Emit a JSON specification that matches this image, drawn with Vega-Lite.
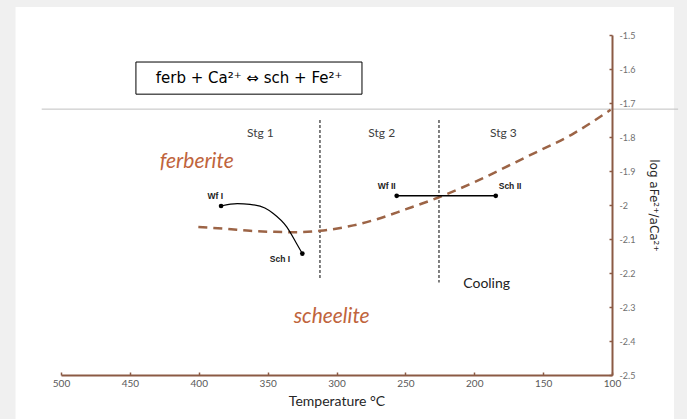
{
  "$schema": "https://vega.github.io/schema/vega-lite/v6.json",
  "width": 551,
  "height": 340,
  "autosize": "none",
  "padding": {"left": 61, "top": 35, "right": 75, "bottom": 44},
  "background": "#f0f0f0",
  "config": {"view": {"stroke": null}, "font": "Lato", "axis": {"labelOverlap": false, "labelFlush": false}},
  "datasets": {
    "panel": [{"T": 533, "T2": 55, "v": -1.4175, "v2": -2.7}],
    "hline": [{"T": 514, "T2": 52, "v": -1.718}],
    "box": [{"T": 445.6, "T2": 281.5, "v": -1.5795, "v2": -1.674, "label": "ferb + Ca²⁺ ⇔ sch + Fe²⁺", "Tc": 363.5, "vc": -1.6275}],
    "vlines": [{"T": 312, "v": -1.75, "v2": -2.216}, {"T": 225.6, "v": -1.75, "v2": -2.228}],
    "curve": [
      {"T": 400.3, "v": -2.065}, {"T": 380, "v": -2.07}, {"T": 362.8, "v": -2.076}, {"T": 345, "v": -2.079},
      {"T": 329, "v": -2.08}, {"T": 312, "v": -2.076}, {"T": 287.8, "v": -2.06}, {"T": 270.8, "v": -2.042},
      {"T": 250, "v": -2.013}, {"T": 226.1, "v": -1.978}, {"T": 200, "v": -1.933}, {"T": 161.9, "v": -1.858},
      {"T": 128, "v": -1.79}, {"T": 101, "v": -1.72}
    ],
    "path1": [
      {"T": 383.8, "v": -2.003}, {"T": 372, "v": -1.996}, {"T": 362.8, "v": -1.998}, {"T": 352, "v": -2.009},
      {"T": 345.9, "v": -2.025}, {"T": 336, "v": -2.065}, {"T": 328.9, "v": -2.114}, {"T": 324.8, "v": -2.143}
    ],
    "path2": [{"T": 256.3, "v": -1.973}, {"T": 184.4, "v": -1.973}],
    "pts": [
      {"T": 383.8, "v": -2.003, "name": "Wf I", "lT": 388, "lv": -1.974},
      {"T": 324.8, "v": -2.143, "name": "Sch I", "lT": 341, "lv": -2.158},
      {"T": 256.3, "v": -1.973, "name": "Wf II", "lT": 263.6, "lv": -1.945},
      {"T": 184.4, "v": -1.973, "name": "Sch II", "lT": 174, "lv": -1.945}
    ],
    "stg": [
      {"T": 355.3, "v": -1.788, "label": "Stg 1"},
      {"T": 267.2, "v": -1.788, "label": "Stg 2"},
      {"T": 178.9, "v": -1.788, "label": "Stg 3"}
    ],
    "phases": [
      {"T": 401.5, "v": -1.873, "label": "ferberite"},
      {"T": 303.5, "v": -2.33, "label": "scheelite"}
    ],
    "cool": [{"T": 191, "v": -2.231, "label": "Cooling"}]
  },
  "layer": [
    {
      "data": {"name": "panel"},
      "mark": {"type": "rect", "fill": "white", "clip": false},
      "encoding": {
        "x": {"field": "T", "type": "quantitative", "scale": {"domain": [100, 500], "reverse": true, "nice": false, "zero": false},
          "axis": {"values": [500, 450, 400, 350, 300, 250, 200, 150, 100], "grid": false, "zindex": 1, "domainColor": "#8b5a44", "domainWidth": 2,
            "tickColor": "#8b5a44", "tickSize": -3, "tickWidth": 1.5, "labelColor": "#595959", "labelFontSize": 10, "labelPadding": 6,
            "labelFlush": false, "labelOverlap": false,
            "title": "Temperature °C", "titleFontSize": 14, "titleFontWeight": "normal", "titleColor": "#262626", "titlePadding": 6}},
        "x2": {"field": "T2"},
        "y": {"field": "v", "type": "quantitative", "scale": {"domain": [-2.5, -1.5], "nice": false, "zero": false},
          "axis": {"orient": "right", "tickCount": 10, "grid": false, "zindex": 1,
            "domainColor": "#8b5a44", "domainWidth": 2, "tickColor": "#8b5a44", "tickSize": -3, "tickWidth": 1.5,
            "labelColor": "#6f6f6f", "labelFontSize": 9, "labelPadding": 10, "labelFlush": false, "labelOverlap": false, "labelSeparation": 0,
            "format": "~g",
            "labelExpr": "replace(datum.label, '\u2212', '-')",
            "title": "log aFe²⁺/aCa²⁺", "titleFont": "DejaVu Sans", "titleAngle": 90, "titleFontSize": 12, "titleFontWeight": "normal", "titleColor": "#262626", "titlePadding": 12}},
        "y2": {"field": "v2"}
      }
    },
    {
      "data": {"name": "hline"},
      "mark": {"type": "rule", "color": "#c0c0c0", "strokeWidth": 1, "clip": false},
      "encoding": {
        "x": {"field": "T", "type": "quantitative"},
        "x2": {"field": "T2"},
        "y": {"field": "v", "type": "quantitative"}
      }
    },
    {
      "data": {"name": "box"},
      "mark": {"type": "rect", "fill": "white", "stroke": "black", "strokeWidth": 1},
      "encoding": {
        "x": {"field": "T", "type": "quantitative"},
        "x2": {"field": "T2"},
        "y": {"field": "v", "type": "quantitative"},
        "y2": {"field": "v2"}
      }
    },
    {
      "data": {"name": "box"},
      "mark": {"type": "text", "font": "DejaVu Sans", "fontSize": 15, "color": "black", "align": "center", "baseline": "middle"},
      "encoding": {
        "x": {"field": "Tc", "type": "quantitative"},
        "y": {"field": "vc", "type": "quantitative"},
        "text": {"field": "label"}
      }
    },
    {
      "data": {"name": "vlines"},
      "mark": {"type": "rule", "color": "black", "strokeWidth": 1, "strokeDash": [3, 2]},
      "encoding": {
        "x": {"field": "T", "type": "quantitative"},
        "y": {"field": "v", "type": "quantitative"},
        "y2": {"field": "v2"}
      }
    },
    {
      "data": {"name": "curve"},
      "mark": {"type": "line", "color": "#9c6446", "strokeWidth": 2.5, "strokeDash": [9, 6], "interpolate": "monotone"},
      "encoding": {
        "x": {"field": "T", "type": "quantitative"},
        "y": {"field": "v", "type": "quantitative"}
      }
    },
    {
      "data": {"name": "path1"},
      "mark": {"type": "line", "color": "black", "strokeWidth": 1.2, "interpolate": "monotone"},
      "encoding": {
        "x": {"field": "T", "type": "quantitative"},
        "y": {"field": "v", "type": "quantitative"}
      }
    },
    {
      "data": {"name": "path2"},
      "mark": {"type": "line", "color": "black", "strokeWidth": 1.5},
      "encoding": {
        "x": {"field": "T", "type": "quantitative"},
        "y": {"field": "v", "type": "quantitative"}
      }
    },
    {
      "data": {"name": "pts"},
      "mark": {"type": "point", "filled": true, "color": "black", "size": 22, "opacity": 1},
      "encoding": {
        "x": {"field": "T", "type": "quantitative"},
        "y": {"field": "v", "type": "quantitative"}
      }
    },
    {
      "data": {"name": "pts"},
      "mark": {"type": "text", "font": "Liberation Sans", "fontWeight": "bold", "fontSize": 8.5, "color": "#222", "align": "center", "baseline": "middle"},
      "encoding": {
        "x": {"field": "lT", "type": "quantitative"},
        "y": {"field": "lv", "type": "quantitative"},
        "text": {"field": "name"}
      }
    },
    {
      "data": {"name": "stg"},
      "mark": {"type": "text", "fontSize": 12, "color": "#404040", "align": "center", "baseline": "middle"},
      "encoding": {
        "x": {"field": "T", "type": "quantitative"},
        "y": {"field": "v", "type": "quantitative"},
        "text": {"field": "label"}
      }
    },
    {
      "data": {"name": "phases"},
      "mark": {"type": "text", "fontSize": 21, "fontStyle": "italic", "color": "#c0643c", "align": "center", "baseline": "middle"},
      "encoding": {
        "x": {"field": "T", "type": "quantitative"},
        "y": {"field": "v", "type": "quantitative"},
        "text": {"field": "label"}
      }
    },
    {
      "data": {"name": "cool"},
      "mark": {"type": "text", "fontSize": 14, "color": "#222", "align": "center", "baseline": "middle"},
      "encoding": {
        "x": {"field": "T", "type": "quantitative"},
        "y": {"field": "v", "type": "quantitative"},
        "text": {"field": "label"}
      }
    }
  ]
}
